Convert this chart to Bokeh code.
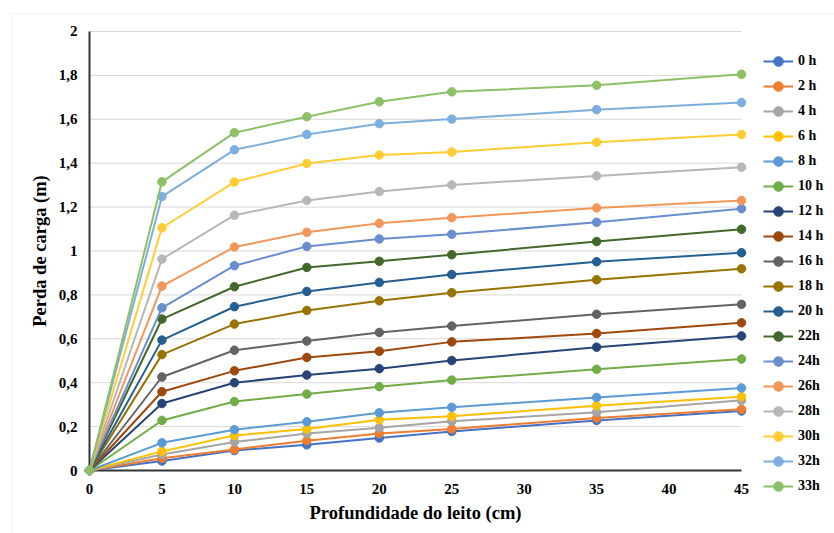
import math
from bokeh.plotting import figure
from bokeh.models import Range1d, Legend, LegendItem, BoxAnnotation
from bokeh.core.properties import value
from bokeh.embed import file_html
from bokeh.resources import INLINE

# ---------------- data ----------------
depth = [0, 5, 10, 15, 20, 25, 35, 45]

series_names = ["0 h", "2 h", "4 h", "6 h", "8 h", "10 h", "12 h", "14 h", "16 h",
                "18 h", "20 h", "22h", "24h", "26h", "28h", "30h", "32h", "33h"]

h0 = [0, 0.043, 0.091, 0.117, 0.148, 0.178, 0.228, 0.271]
h2 = [0, 0.056, 0.096, 0.136, 0.169, 0.189, 0.239, 0.279]
h4 = [0, 0.073, 0.130, 0.169, 0.195, 0.224, 0.265, 0.320]
h6 = [0, 0.087, 0.160, 0.189, 0.231, 0.247, 0.295, 0.336]
h8 = [0, 0.126, 0.186, 0.222, 0.263, 0.288, 0.333, 0.376]
h10 = [0, 0.228, 0.314, 0.348, 0.382, 0.412, 0.461, 0.508]
h12 = [0, 0.305, 0.400, 0.435, 0.464, 0.501, 0.562, 0.613]
h14 = [0, 0.359, 0.454, 0.515, 0.543, 0.586, 0.624, 0.673]
h16 = [0, 0.426, 0.548, 0.590, 0.629, 0.658, 0.712, 0.757]
h18 = [0, 0.528, 0.667, 0.729, 0.773, 0.810, 0.869, 0.919]
h20 = [0, 0.594, 0.746, 0.816, 0.857, 0.893, 0.951, 0.992]
h22 = [0, 0.690, 0.837, 0.925, 0.953, 0.983, 1.043, 1.099]
h24 = [0, 0.741, 0.933, 1.021, 1.055, 1.076, 1.131, 1.193]
h26 = [0, 0.840, 1.018, 1.085, 1.126, 1.152, 1.196, 1.230]
h28 = [0, 0.963, 1.163, 1.230, 1.271, 1.301, 1.342, 1.382]
h30 = [0, 1.106, 1.314, 1.399, 1.437, 1.451, 1.495, 1.531]
h32 = [0, 1.248, 1.461, 1.531, 1.580, 1.601, 1.644, 1.676]
h33 = [0, 1.315, 1.539, 1.612, 1.680, 1.725, 1.755, 1.805]

series_values = [h0, h2, h4, h6, h8, h10, h12, h14, h16, h18,
                 h20, h22, h24, h26, h28, h30, h32, h33]

colors = ["#4472C4", "#ED7D31", "#A5A5A5", "#FFC000", "#5B9BD5", "#70AD47",
          "#264478", "#9E480E", "#636363", "#997300", "#255E91", "#43682B",
          "#698ED0", "#F1975A", "#B7B7B7", "#FFCD33", "#7CAFDD", "#8CC168"]

x_ticks = [0, 5, 10, 15, 20, 25, 30, 35, 40, 45]
x_tick_labels = ["0", "5", "10", "15", "20", "25", "30", "35", "40", "45"]
y_ticks = [0, 0.2, 0.4, 0.6, 0.8, 1, 1.2, 1.4, 1.6, 1.8, 2]
y_tick_labels = ["0", "0,2", "0,4", "0,6", "0,8", "1", "1,2", "1,4", "1,6", "1,8", "2"]

x_title = "Profundidade do leito (cm)"
y_title = "Perda de carga (m)"

# ---------------- figure ----------------
FONT = "'Liberation Serif', 'Times New Roman', serif"
f = value(FONT)

# the plotting frame covers the whole canvas; axes are drawn from the tick arrays
p = figure(width=834, height=533, output_backend="svg", toolbar_location=None,
           x_range=Range1d(-6.1425, 51.418), y_range=Range1d(-0.2870, 2.1412),
           x_axis_location=None, y_axis_location=None,
           min_border_left=0, min_border_right=0, min_border_top=0,
           min_border_bottom=0)
p.outline_line_color = None
p.background_fill_color = "white"
p.border_fill_color = "white"
p.xgrid.visible = False
p.ygrid.visible = False

# chart-area border (light grey); screen y is measured from the bottom here
p.add_layout(BoxAnnotation(left=11, top=520, right=860, bottom=-30,
                           left_units="screen", right_units="screen",
                           top_units="screen", bottom_units="screen",
                           fill_alpha=0, line_color="#D9D9D9", line_width=1))

# horizontal gridlines limited to the data extent
p.segment(x0=x_ticks[0], x1=x_ticks[-1], y0=y_ticks[1:], y1=y_ticks[1:],
          line_color="#D9D9D9", line_width=1)
# axis lines
p.line(x=[x_ticks[0], x_ticks[0]], y=[y_ticks[0], y_ticks[-1]], line_color="#333333", line_width=2)
p.line(x=[x_ticks[0], x_ticks[-1]], y=[y_ticks[0], y_ticks[0]], line_color="#333333", line_width=2)

items = []
for name, vals, col in zip(series_names, series_values, colors):
    lr = p.line(depth, vals, line_color=col, line_width=2)
    sr = p.scatter(depth, vals, size=8.5, fill_color=col, line_color=col)
    items.append(LegendItem(label=name, renderers=[lr, sr]))

# tick labels
p.text(x=x_ticks, y=[y_ticks[0]] * len(x_ticks), text=x_tick_labels,
       text_font=f, text_font_style="bold", text_font_size="15px",
       text_color="#000000", text_align="center", text_baseline="middle",
       y_offset=18)
p.text(x=[x_ticks[0]] * len(y_ticks), y=y_ticks, text=y_tick_labels,
       text_font=f, text_font_style="bold", text_font_size="15px",
       text_color="#000000", text_align="right", text_baseline="middle",
       x_offset=-12)

# axis titles
x_mid = (x_ticks[0] + x_ticks[-1]) / 2
y_mid = (y_ticks[0] + y_ticks[-1]) / 2
p.text(x=[x_mid], y=[y_ticks[0]], text=[x_title],
       text_font=f, text_font_style="bold", text_font_size="18.5px",
       text_color="#000000", text_align="center", text_baseline="middle",
       y_offset=42)
p.text(x=[x_ticks[0]], y=[y_mid], text=[y_title], angle=math.pi / 2,
       text_font=f, text_font_style="bold", text_font_size="18.5px",
       text_color="#000000", text_align="center", text_baseline="middle",
       x_offset=-49)

legend = Legend(items=items, location=(763, 35), orientation="vertical",
                glyph_width=30, glyph_height=24, label_height=24, spacing=1,
                padding=0, margin=0, label_standoff=5,
                border_line_color=None, background_fill_alpha=0,
                label_text_font=FONT, label_text_font_style="bold",
                label_text_font_size="14px", label_text_color="#000000")
p.add_layout(legend, "center")

open("out.html", "w").write(file_html(p, INLINE))
